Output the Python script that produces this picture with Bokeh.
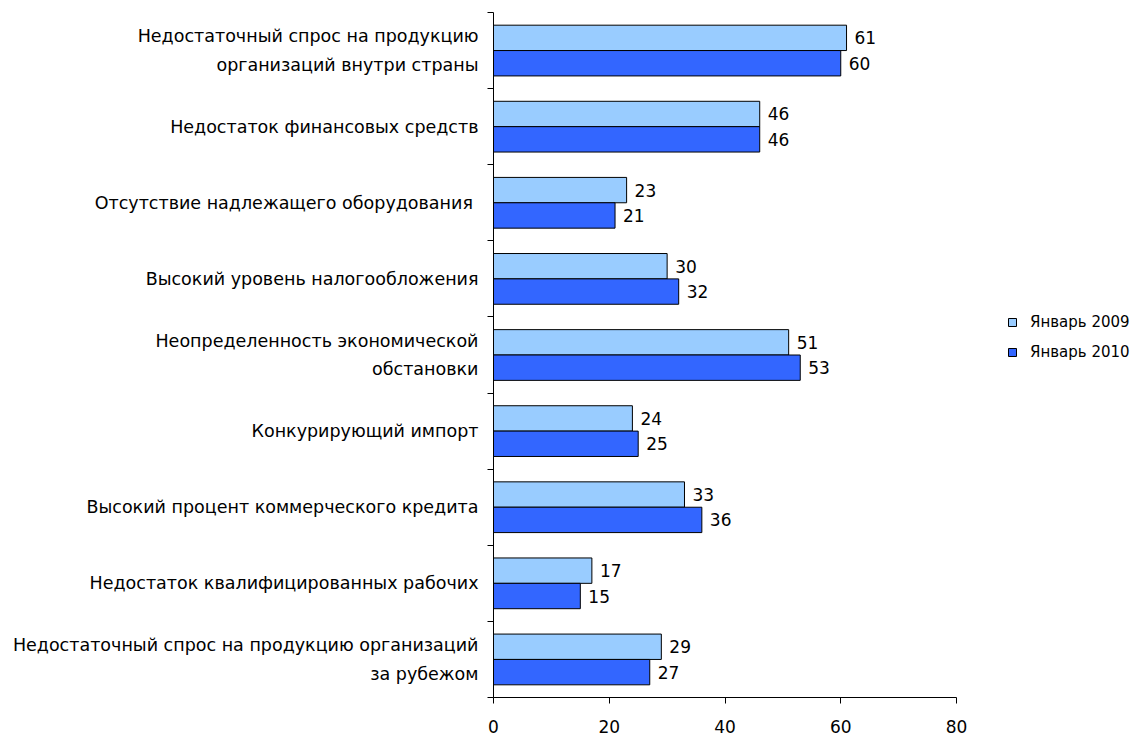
import numpy as np
from bokeh.plotting import figure
from bokeh.models import Range1d, FixedTicker, ColumnDataSource, Legend, LegendItem, LabelSet
from bokeh.core.properties import value
from bokeh.embed import file_html
from bokeh.resources import INLINE

categories = [
    "Недостаточный спрос на продукцию\nорганизаций внутри страны",
    "Недостаток финансовых средств",
    "Отсутствие надлежащего  оборудования",
    "Высокий уровень налогообложения",
    "Неопределенность экономической\nобстановки",
    "Конкурирующий импорт",
    "Высокий процент коммерческого кредита",
    "Недостаток квалифицированных рабочих",
    "Недостаточный спрос на продукцию организаций\nза рубежом",
]
jan2009 = [61, 46, 23, 30, 51, 24, 33, 17, 29]
jan2010 = [60, 46, 21, 32, 53, 25, 36, 15, 27]
series_names = ["Январь 2009", "Январь 2010"]
x_ticks = [0, 20, 40, 60, 80]

FONT = "DejaVu Sans"
LIGHT = "#99CCFF"
DARK = "#3366FF"

n = len(categories)
idx = np.arange(n)
bar_h = 1.0 / 3.0
centers = [float(i) + 0.5 for i in idx]

p = figure(
    output_backend="svg", toolbar_location=None,
    frame_width=463, frame_height=685,
    min_border_left=493, min_border_right=177,
    min_border_top=12, min_border_bottom=40,
    x_range=Range1d(0, 80), y_range=Range1d(n, 0),
)
p.outline_line_color = None
p.xgrid.grid_line_color = None
p.ygrid.grid_line_color = None
p.background_fill_color = "white"
p.border_fill_color = "white"

src1 = ColumnDataSource(dict(y=idx + 0.5 - bar_h / 2, v=jan2009, t=[str(v) for v in jan2009]))
src2 = ColumnDataSource(dict(y=idx + 0.5 + bar_h / 2, v=jan2010, t=[str(v) for v in jan2010]))

r1 = p.hbar(y="y", right="v", left=0, height=bar_h, source=src1,
            fill_color=LIGHT, line_color="black", line_width=1)
r2 = p.hbar(y="y", right="v", left=0, height=bar_h, source=src2,
            fill_color=DARK, line_color="black", line_width=1)

for s in (src1, src2):
    p.add_layout(LabelSet(x="v", y="y", text="t", source=s, x_offset=8,
                          text_align="left", text_baseline="middle",
                          text_font=value(FONT), text_font_size=value("17px"),
                          text_color=value("black")))

# axes
p.xaxis.ticker = FixedTicker(ticks=x_ticks)
p.xaxis.minor_tick_line_color = None
p.xaxis.major_tick_in = 0
p.xaxis.major_tick_out = 6
p.xaxis.axis_line_color = "black"
p.xaxis.major_tick_line_color = "black"
p.xaxis.major_label_text_font = FONT
p.xaxis.major_label_text_font_size = "17px"
p.xaxis.major_label_text_color = "black"
p.xaxis.major_label_standoff = 16

p.yaxis.ticker = FixedTicker(ticks=centers, minor_ticks=list(range(n + 1)))
p.yaxis.major_label_overrides = {c: lab for c, lab in zip(centers, categories)}
p.yaxis.major_tick_in = 0
p.yaxis.major_tick_out = 0
p.yaxis.minor_tick_in = 0
p.yaxis.minor_tick_out = 6
p.yaxis.minor_tick_line_color = "black"
p.yaxis.axis_line_color = "black"
p.yaxis.major_label_text_font = FONT
p.yaxis.major_label_text_font_size = "17.5px"
p.yaxis.major_label_text_color = "black"
p.yaxis.major_label_text_line_height = 1.42
p.yaxis.major_label_standoff = 9

legend = Legend(items=[LegendItem(label=series_names[0], renderers=[r1]),
                       LegendItem(label=series_names[1], renderers=[r2])],
                location=(51, 336), orientation="vertical",
                label_text_font=FONT, label_text_font_size="15px", label_text_color="black",
                glyph_width=10, glyph_height=10, label_standoff=13,
                spacing=12, padding=0, margin=0,
                border_line_color=None, background_fill_alpha=0)
p.add_layout(legend, "right")

open("out.html", "w").write(file_html(p, INLINE))
